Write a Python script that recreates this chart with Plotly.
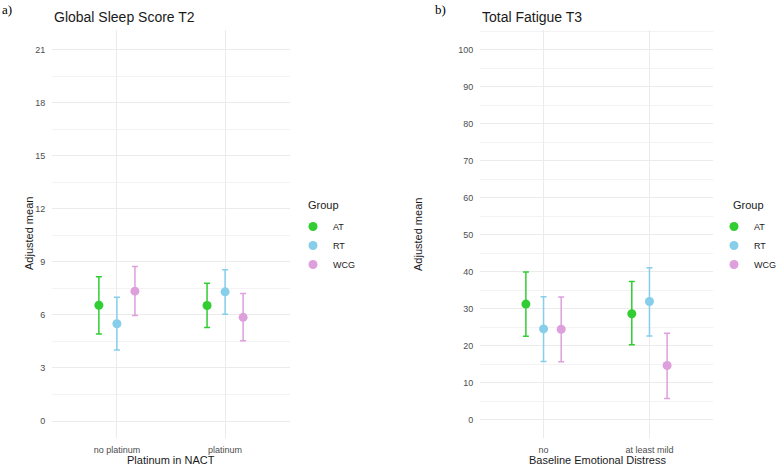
import plotly.graph_objects as go

W, H = 777, 465
groups = ["AT", "RT", "WCG"]
colors = {"AT": "#32CD32", "RT": "#87CEEB", "WCG": "#DDA0DD"}

# Panel a
cats_a = ["no platinum", "platinum"]
mean_a = {"AT": [6.54, 6.53], "RT": [5.50, 7.30], "WCG": [7.34, 5.86]}
low_a = {"AT": [4.92, 5.28], "RT": [4.01, 6.03], "WCG": [5.96, 4.54]}
up_a = {"AT": [8.15, 7.78], "RT": [7.00, 8.55], "WCG": [8.74, 7.21]}
yticks_a = [0, 3, 6, 9, 12, 15, 18, 21]

# Panel b
cats_b = ["no", "at least mild"]
mean_b = {"AT": [31.3, 28.7], "RT": [24.6, 32.0], "WCG": [24.5, 14.7]}
low_b = {"AT": [22.6, 20.3], "RT": [15.8, 22.7], "WCG": [15.7, 5.8]}
up_b = {"AT": [40.0, 37.4], "RT": [33.3, 41.1], "WCG": [33.2, 23.4]}
yticks_b = [0, 10, 20, 30, 40, 50, 60, 70, 80, 90, 100]

fig = go.Figure()

def add_panel(cats, mean, low, up, xa, ya, legend):
    for g in groups:
        m = mean[g]
        fig.add_trace(go.Scatter(
            x=cats, y=m, mode="markers", name=g,
            marker=dict(color=colors[g], size=9),
            error_y=dict(type="data", symmetric=False,
                         array=[u - v for u, v in zip(up[g], m)],
                         arrayminus=[v - l for v, l in zip(m, low[g])],
                         color=colors[g], thickness=1.5, width=3),
            xaxis=xa, yaxis=ya, legend=legend,
        ))

add_panel(cats_a, mean_a, low_a, up_a, "x", "y", "legend")
add_panel(cats_b, mean_b, low_b, up_b, "x2", "y2", "legend2")

grid = "#EBEBEB"
tickfont = dict(family="Liberation Sans, Arial, sans-serif", size=9, color="#4D4D4D")
ydom = [1 - 438 / H, 1 - 30 / H]

xcommon = dict(type="category", showgrid=True, gridcolor=grid, gridwidth=1,
               zeroline=False, showline=False, tickfont=tickfont,
               ticks="outside", ticklen=3, tickcolor="rgba(0,0,0,0)", range=[-0.6, 1.6])
ycommon = dict(showgrid=True, gridcolor=grid, gridwidth=1, zeroline=False,
               showline=False, tickfont=tickfont, ticks="outside", ticklen=4,
               tickcolor="rgba(0,0,0,0)", domain=ydom)

legcommon = dict(xanchor="left", yanchor="top", font=dict(size=9),
                 bgcolor="rgba(0,0,0,0)", tracegroupgap=0, itemwidth=30)

fig.update_layout(
    width=W, height=H, margin=dict(l=0, r=0, t=0, b=0, autoexpand=False),
    paper_bgcolor="white", plot_bgcolor="white",
    scattermode="group", scattergap=0.5,
    font=dict(family="Liberation Sans, Arial, sans-serif", color="#1a1a1a"),
    xaxis=dict(domain=[52 / W, 290 / W], anchor="y", **xcommon),
    yaxis=dict(anchor="x", range=[-0.96, 22.1], tickvals=yticks_a,
               minor=dict(showgrid=True, dtick=1.5, tick0=0, gridcolor="#F3F3F3", gridwidth=0.7),
               **ycommon),
    xaxis2=dict(domain=[480 / W, 713 / W], anchor="y2", **xcommon),
    yaxis2=dict(anchor="x2", range=[-4.9, 105.4], tickvals=yticks_b,
                minor=dict(showgrid=True, dtick=5, tick0=0, gridcolor="#F3F3F3", gridwidth=0.7),
                **ycommon),
    legend=dict(x=293 / W, y=1 - 212 / H, **legcommon),
    legend2=dict(x=714 / W, y=1 - 212 / H, **legcommon),
)

ann = []
def txt(x, y, s, size, **kw):
    ann.append(dict(x=x / W, y=1 - y / H, xref="paper", yref="paper", text=s,
                    showarrow=False, font=dict(size=size, **kw.pop("font", {})), **kw))

txt(0, 9, "a)", 13, xanchor="left", yanchor="middle", font=dict(family="Liberation Serif, Times New Roman, serif", color="#000"))
txt(433, 9, "b)", 13, xanchor="left", yanchor="middle", font=dict(family="Liberation Serif, Times New Roman, serif", color="#000"))
txt(52, 17, "Global Sleep Score T2", 14, xanchor="left", yanchor="middle")
txt(480, 17, "Total Fatigue T3", 14, xanchor="left", yanchor="middle")
txt(306, 205, "Group", 11, xanchor="left", yanchor="middle")
txt(731, 205, "Group", 11, xanchor="left", yanchor="middle")
txt(171, 460, "Platinum in NACT", 11, xanchor="center", yanchor="middle")
txt(597, 460, "Baseline Emotional Distress", 11, xanchor="center", yanchor="middle")
txt(29, 234, "Adjusted mean", 11, xanchor="center", yanchor="middle", textangle=-90)
txt(418, 234, "Adjusted mean", 11, xanchor="center", yanchor="middle", textangle=-90)
fig.update_layout(annotations=ann)

fig.write_html("out.html")
